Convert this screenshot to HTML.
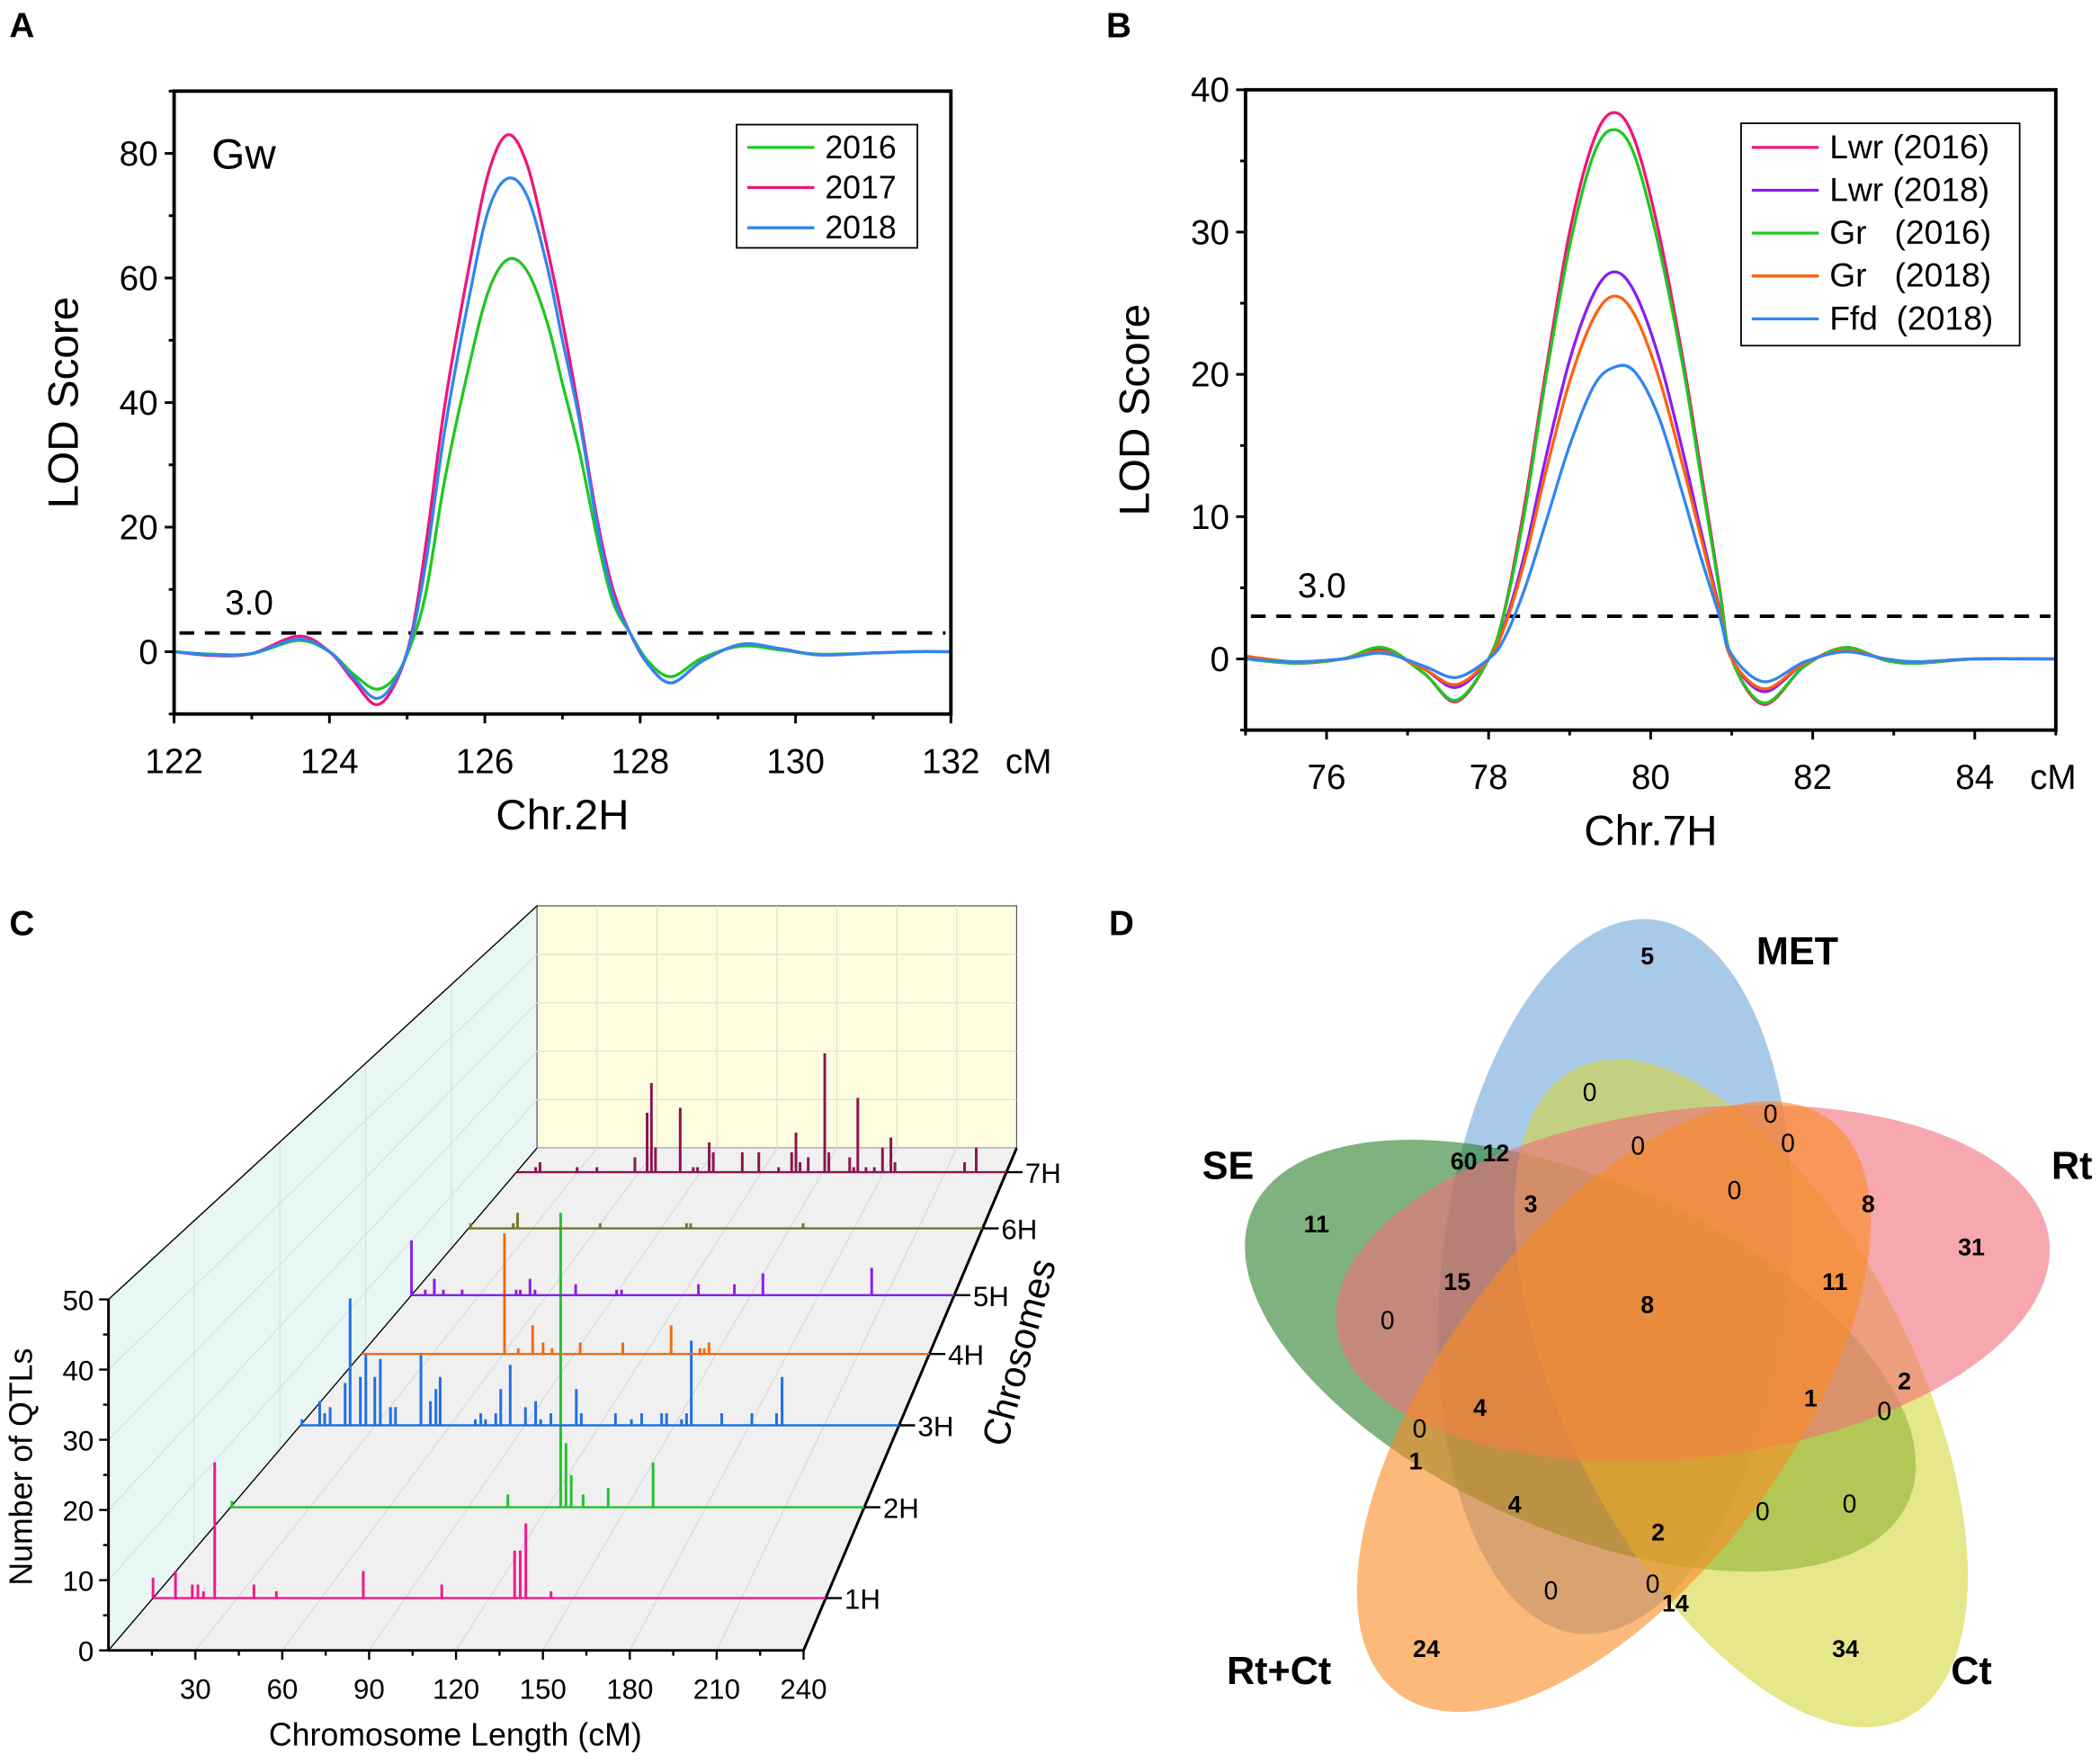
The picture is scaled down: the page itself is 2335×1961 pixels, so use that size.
<!DOCTYPE html>
<html><head><meta charset="utf-8"><style>
html,body{margin:0;padding:0;background:#fff;}
svg{display:block;font-family:"Liberation Sans",Arial,sans-serif;}
</style></head><body>
<svg id="fig" width="2335" height="1961" viewBox="0 0 1568 1316.8" xmlns="http://www.w3.org/2000/svg">
<g id="pA"></g>
<g id="pB"></g>
<g id="pC"></g>
<g id="pD"></g>
</svg>
<script>
// ---------- Panel A data ----------
const aX = [122,122.5,123,123.6,124,124.3,124.6,124.85,125.06,125.25,125.49,125.8,126.05,126.3,126.55,126.8,127.0,127.22,127.45,127.65,127.87,128.1,128.4,128.8,129.3,129.8,130.3,131,131.5,132];
const a2017 = [0,-0.6,-0.3,2.5,0,-4.5,-8.5,-5,3,18,40,62,77,83,78,65,53,38,21,10,3,-2,-5,-1.5,1.2,0.5,-0.5,-0.2,0,0];
const a2018 = [0,-0.5,-0.3,2.0,0,-4,-7.5,-4.5,2.5,15,36,57,71,76,73,62,50,37,20,9,3,-2,-5,-1.5,1.2,0.5,-0.5,-0.2,0,0];
const a2016 = [0,-0.4,-0.3,1.8,0,-3.5,-6,-4,1.5,10,28,46,58,63,61,53,43,32,18,8,3,-1.5,-4,-1,0.9,0.3,-0.4,-0.2,0,0];
const aYTicks = [0,20,40,60,80];
const aXTicks = [122,124,126,128,130,132];
// ---------- Panel B data ----------
const bX = [75,75.6,76.2,76.7,77.2,77.6,78.0,78.2,78.45,78.7,79.0,79.3,79.55,79.8,80.1,80.4,80.6,80.85,81.0,81.4,81.9,82.4,82.9,83.3,84,85];
const bLwr2016 = [0.2,-0.3,0,0.7,-1,-3,0,3.5,11,20,30,36.5,38.4,36.5,30,21,14,5,0,-3.2,-0.5,0.8,-0.1,-0.3,0,0];
const bLwr2018 = [0.1,-0.2,0,0.5,-0.7,-2,0,2.5,7.5,14,21,25.7,27.2,25.8,21.2,14.5,9.5,3.5,0,-2.3,-0.3,0.6,0,-0.2,0,0];
const bGr2016 = [0,-0.3,0,0.8,-1,-2.9,0,3.4,10.5,19.5,29,35.5,37.2,35.4,29,20.5,13.5,4.8,0,-3.1,-0.5,0.8,-0.1,-0.3,0,0];
const bGr2018 = [0.2,-0.2,0,0.5,-0.7,-1.8,0,2.3,7,13,19.5,24,25.5,24.2,19.8,13.5,9,3.3,0,-2.1,-0.3,0.6,0,-0.2,0,0];
const bFfd2018 = [0,-0.2,0,0.4,-0.5,-1.3,0,1.5,5,9.5,15,19.2,20.5,20.2,17,11.5,7.5,3,0.3,-1.6,-0.2,0.5,0,-0.2,0,0];
const bYTicks = [0,10,20,30,40];
const bXTicks = [76,78,80,82,84];
// ---------- Panel C data ----------
const cChroms = ["1H","2H","3H","4H","5H","6H","7H"];
const c1Hpos = [0,8,14,16,18,22,36,44,75,103,129,131,133,142];
const c1Hn   = [3,4,2,2,1,20,2,1,4,2,7,7,11,1];
const c2Hpos = [0.5,105,125,127,129,133.5,143,160];
const c2Hn   = [1,2,46,10,5,2,3,7];
const c3Hpos = [0.6,7.7,9.7,11.9,17.9,19.9,24,26.2,29.8,32,36.1,38.1,48.3,52.1,54.3,56,70.1,72.3,74.2,78.3,80.3,84.1,90.2,94.3,96.3,100.4,110.6,112.6,126.3,132.7,136.8,144.8,146.8,152.8,154.8,156.7,168.9,181,190.9,193.1];
const c3Hn   = [1,4,2,3,7,21,8,12,8,11,3,3,12,4,6,8,1,2,1,2,6,10,3,4,1,2,6,2,2,1,2,2,2,1,2,14,2,2,2,8];
const c4Hpos = [60.5,66.3,72.4,76.8,80.6,92.5,110.5,130.9,143.1,144.9,146.9];
const c4Hn   = [21,1,5,2,1,2,2,5,1,1,2];
const c5Hpos = [0,6.1,10.1,14.1,22.4,46.3,48.1,52.4,54.6,72.6,90.7,92.9,126.9,142.8,155.4,203.5];
const c5Hn   = [10,1,3,1,1,1,1,3,1,2,1,1,2,2,4,5];
const c6Hpos = [1,20.9,22.9,61.5,101.8,103.7,156.2];
const c6Hn   = [1,1,3,1,1,1,1];
const c7Hpos = [9.4,11.5,29.7,39.4,58,64,66.1,68.1,80.2,86.6,88.7,94.4,96.4,110.6,118.7,128.4,134.8,136.9,138.9,142.9,151,153,163.2,165.2,167.2,171.2,175.3,179.3,183.4,185.4,219.5,225.2];
const c7Hn   = [1,2,1,1,3,12,18,5,13,1,1,6,4,4,4,1,4,8,2,3,24,4,3,1,15,1,1,5,7,2,2,5];
const cXTicks = [30,60,90,120,150,180,210,240];
const cYTicks = [0,10,20,30,40,50];
// ---------- Panel D data ----------
const dSets = ["MET","Rt","Ct","Rt+Ct","SE"];
const dCounts = ["5","0","0","0","0","12","60","11","3","0","8","31","15","11","0","8","2","1","0","4","0","1","4","0","0","2","0","0","14","24","34"];

const NS="http://www.w3.org/2000/svg";
function mk(parent,tag,attrs,name,text){
  const e=document.createElementNS(NS,tag);
  for(const k in attrs) e.setAttribute(k,attrs[k]);
  
  
  if(text!==undefined) e.textContent=text;
  parent.appendChild(e); return e;
}
function smooth(pts){
  let d="M"+pts[0][0].toFixed(2)+","+pts[0][1].toFixed(2);
  for(let i=0;i<pts.length-1;i++){
    const p0=pts[Math.max(0,i-1)],p1=pts[i],p2=pts[i+1],p3=pts[Math.min(pts.length-1,i+2)];
    const c1=[p1[0]+(p2[0]-p0[0])/6,p1[1]+(p2[1]-p0[1])/6];
    const c2=[p2[0]-(p3[0]-p1[0])/6,p2[1]-(p3[1]-p1[1])/6];
    d+="C"+c1[0].toFixed(2)+","+c1[1].toFixed(2)+" "+c2[0].toFixed(2)+","+c2[1].toFixed(2)+" "+p2[0].toFixed(2)+","+p2[1].toFixed(2);
  }
  return d;
}
function lodPanel(g,cfg){
  const X=v=>cfg.x0+(v-cfg.xmin)/(cfg.xmax-cfg.xmin)*(cfg.x1-cfg.x0);
  const Y=v=>cfg.y1-(v-cfg.ymin)/(cfg.ymax-cfg.ymin)*(cfg.y1-cfg.y0);
  mk(g,'text',{x:cfg.lx,y:cfg.ly,'font-size':26,'font-weight':'bold'},'panel-label',cfg.label);
  for(let v=cfg.ymin;v<=cfg.ymax;v+=cfg.yminor){
    const major=cfg.yticks.includes(v);
    mk(g,'line',{x1:cfg.x0,x2:cfg.x0-(major?7:4),y1:Y(v),y2:Y(v),stroke:'#000','stroke-width':2},'y-tick');
  }
  cfg.yticks.forEach(v=>mk(g,'text',{x:cfg.x0-12,y:Y(v)+9,'font-size':26,'text-anchor':'end'},'y-tick-label',String(v)));
  for(let v=cfg.xmin;v<=cfg.xmax+1e-9;v+=cfg.xminor){
    const major=cfg.xticks.some(t=>Math.abs(t-v)<1e-6);
    mk(g,'line',{x1:X(v),x2:X(v),y1:cfg.y1,y2:cfg.y1+(major?7:4),stroke:'#000','stroke-width':2},'x-tick');
  }
  cfg.xticks.forEach(v=>mk(g,'text',{x:X(v),y:cfg.y1+44,'font-size':26,'text-anchor':'middle'},'x-tick-label',String(v)));
  mk(g,'text',{x:cfg.cmx,y:cfg.y1+44,'font-size':26,'text-anchor':'middle'},'x-unit-label','cM');
  mk(g,'text',{x:(cfg.x0+cfg.x1)/2,y:cfg.y1+86,'font-size':32,'text-anchor':'middle'},'x-axis-title',cfg.xtitle);
  mk(g,'text',{x:cfg.ytx,y:(cfg.y0+cfg.y1)/2,'font-size':32,'text-anchor':'middle',transform:`rotate(-90 ${cfg.ytx} ${(cfg.y0+cfg.y1)/2})`},'y-axis-title','LOD Score');
  mk(g,'line',{x1:cfg.x0+4,x2:cfg.x1-4,y1:Y(3),y2:Y(3),stroke:'#000','stroke-width':2.6,'stroke-dasharray':'11,8'},'threshold-line');
  mk(g,'text',{x:cfg.thx,y:Y(3)-14,'font-size':26,'text-anchor':'middle'},'threshold-label','3.0');
  cfg.series.forEach(s=>{
    const pts=cfg.xs.map((x,i)=>[X(x),Y(s.v[i])]);
    mk(g,'path',{d:smooth(pts),fill:'none',stroke:s.c,'stroke-width':2.2},s.name);
  });
  mk(g,'rect',{x:cfg.x0,y:cfg.y0,width:cfg.x1-cfg.x0,height:cfg.y1-cfg.y0,fill:'none',stroke:'#000','stroke-width':2.6},'plot-frame');
  const L=cfg.leg;
  mk(g,'rect',{x:L.x,y:L.y,width:L.w,height:L.h,fill:'#fff',stroke:'#000','stroke-width':1.2},'legend-box');
  cfg.series.forEach((s,i)=>{
    const yy=L.y+L.first+i*L.step;
    mk(g,'line',{x1:L.x+8,x2:L.x+58,y1:yy,y2:yy,stroke:s.c,'stroke-width':2.2},'legend-swatch');
    mk(g,'text',{x:L.x+66,y:yy+8,'font-size':L.fs,style:'white-space:pre'},'legend-entry',s.label);
  });
}
lodPanel(document.getElementById('pA'),{label:'A',lx:7,ly:28,x0:130,x1:710,y0:68,y1:533,xmin:122,xmax:132,ymin:-10,ymax:90,
  yminor:10,xminor:1,yticks:aYTicks,xticks:aXTicks,cmx:768,xtitle:'Chr.2H',ytx:58,thx:186,xs:aX,
  series:[{name:'line-2016',label:'2016',c:'#1ec81e',v:a2016},{name:'line-2017',label:'2017',c:'#f0157a',v:a2017},{name:'line-2018',label:'2018',c:'#2f86f0',v:a2018}],
  leg:{x:550,y:93,w:135,h:92,first:17,step:30,fs:24}});
mk(document.getElementById('pA'),'text',{x:158,y:126,'font-size':32},'trait-label','Gw');
lodPanel(document.getElementById('pB'),{label:'B',lx:826,ly:28,x0:930,x1:1535,y0:67,y1:545,xmin:75,xmax:85,ymin:-5,ymax:40,
  yminor:5,xminor:1,yticks:bYTicks,xticks:bXTicks,cmx:1533,xtitle:'Chr.7H',ytx:858,thx:987,xs:bX,
  series:[{name:'line-lwr-2016',label:'Lwr (2016)',c:'#f0157a',v:bLwr2016},{name:'line-lwr-2018',label:'Lwr (2018)',c:'#8a1ef0',v:bLwr2018},
    {name:'line-gr-2016',label:'Gr   (2016)',c:'#1ec81e',v:bGr2016},{name:'line-gr-2018',label:'Gr   (2018)',c:'#ff6010',v:bGr2018},{name:'line-ffd-2018',label:'Ffd  (2018)',c:'#2f86f0',v:bFfd2018}],
  leg:{x:1300,y:92,w:208,h:166,first:18,step:32,fs:25}});

// ---------- Panel C ----------
(function(){
  const g=document.getElementById('pC');
  const rowDepth=[0.104,0.285,0.448,0.59,0.707,0.84,0.952];
  const colors=['#f0198a','#22c22a','#1f6fe5','#f26a0f','#8b1ee6','#76762a','#8b1450'];
  const P=(cm,q,t)=>{const s=1-0.31*t;return [81+320*t+cm/240*519*s,1232-375*t-q*5.24*s];};
  const pt=p=>p[0].toFixed(1)+','+p[1].toFixed(1);
  mk(g,'text',{x:7,y:698,'font-size':26,'font-weight':'bold'},'panel-label','C');
  mk(g,'polygon',{points:[P(0,0,0),P(0,50,0),P(0,50,1),P(0,0,1)].map(pt).join(' '),fill:'#e8f7f4',stroke:'#555','stroke-width':0.8},'left-wall');
  mk(g,'polygon',{points:[P(0,0,1),P(240,0,1),P(240,50,1),P(0,50,1)].map(pt).join(' '),fill:'#fffde0',stroke:'#555','stroke-width':0.8},'back-wall');
  mk(g,'polygon',{points:[P(0,0,0),P(240,0,0),P(240,0,1),P(0,0,1)].map(pt).join(' '),fill:'#f0f0f0'},'floor');
  for(let cm=30;cm<240;cm+=30){
    let a=P(cm,0,0),b=P(cm,0,1),c=P(cm,50,1);
    mk(g,'line',{x1:a[0],y1:a[1],x2:b[0],y2:b[1],stroke:'#d8d8d8','stroke-width':0.8},'floor-grid');
    mk(g,'line',{x1:b[0],y1:b[1],x2:c[0],y2:c[1],stroke:'#e2e2cc','stroke-width':0.8},'back-grid');
  }
  for(let q=10;q<50;q+=10){
    let a=P(0,q,0),b=P(0,q,1),c=P(240,q,1);
    mk(g,'line',{x1:a[0],y1:a[1],x2:b[0],y2:b[1],stroke:'#cfe3e0','stroke-width':0.8},'wall-grid');
    mk(g,'line',{x1:b[0],y1:b[1],x2:c[0],y2:c[1],stroke:'#e2e2cc','stroke-width':0.8},'back-grid');
  }
  for(let t=0.2;t<1;t+=0.2){
    let a=P(0,0,t),b=P(0,50,t);
    mk(g,'line',{x1:a[0],y1:a[1],x2:b[0],y2:b[1],stroke:'#cfe3e0','stroke-width':0.8},'wall-grid');
  }
  const edge=(a,b,w,n)=>mk(g,'line',{x1:a[0],y1:a[1],x2:b[0],y2:b[1],stroke:'#000','stroke-width':w},n);
  edge(P(0,0,0),P(240,0,0),2,'x-axis');
  edge(P(240,0,0),P(240,0,1),2,'depth-axis');
  edge(P(0,0,0),P(0,50,0),2,'y-axis');
  edge(P(0,50,0),P(0,50,1),0.9,'wall-edge');
  edge(P(0,0,0),P(0,0,1),0.9,'wall-edge');
  for(let cm=15;cm<=240;cm+=15){
    const a=P(cm,0,0);
    mk(g,'line',{x1:a[0],y1:a[1],x2:a[0],y2:a[1]+(cm%30===0?7:4),stroke:'#000','stroke-width':1.6},'x-tick');
  }
  cXTicks.forEach(v=>{const a=P(v,0,0);mk(g,'text',{x:a[0],y:a[1]+36,'font-size':21,'text-anchor':'middle'},'x-tick-label',String(v));});
  for(let q=0;q<=50;q+=5){
    const a=P(0,q,0);
    mk(g,'line',{x1:a[0],y1:a[1],x2:a[0]-(q%10===0?7:4),y2:a[1],stroke:'#000','stroke-width':1.6},'y-tick');
  }
  cYTicks.forEach(v=>{const a=P(0,v,0);mk(g,'text',{x:a[0]-11,y:a[1]+8,'font-size':21,'text-anchor':'end'},'y-tick-label',String(v));});
  mk(g,'text',{x:340,y:1303,'font-size':24,'text-anchor':'middle'},'x-axis-title','Chromosome Length (cM)');
  mk(g,'text',{x:24,y:1095,'font-size':24,'text-anchor':'middle',transform:'rotate(-90 24 1095)'},'y-axis-title','Number of QTLs');
  mk(g,'text',{x:770,y:1012,'font-size':28,'text-anchor':'middle',transform:'rotate(-75 770 1012)'},'depth-axis-title','Chrosomes');
  const pos=[c1Hpos,c2Hpos,c3Hpos,c4Hpos,c5Hpos,c6Hpos,c7Hpos];
  const ns=[c1Hn,c2Hn,c3Hn,c4Hn,c5Hn,c6Hn,c7Hn];
  cChroms.forEach((name,k)=>{
    const t=rowDepth[k];
    const a=P(0,0,t),b=P(240,0,t);
    mk(g,'line',{x1:a[0],y1:a[1],x2:b[0],y2:b[1],stroke:colors[k],'stroke-width':1.6},'baseline-'+name);
    mk(g,'line',{x1:b[0],y1:b[1],x2:b[0]+12,y2:b[1],stroke:'#000','stroke-width':1.6},'depth-tick');
    mk(g,'text',{x:b[0]+14,y:b[1]+8,'font-size':21},'chrom-label',name);
    pos[k].forEach((cm,i)=>{
      const p0=P(cm,0,t),p1=P(cm,ns[k][i],t);
      mk(g,'line',{x1:p0[0],y1:p0[1],x2:p1[0],y2:p1[1],stroke:colors[k],'stroke-width':2},'bar-'+name);
    });
  });
})();

// ---------- Panel D ----------
(function(){
  const g=document.getElementById('pD');
  mk(g,'text',{x:828,y:698,'font-size':26,'font-weight':'bold'},'panel-label','D');
  const ells=[
    {n:'ellipse-met',cx:1206,cy:953,rx:268,ry:130,a:96,c:'#70a5d9'},
    {n:'ellipse-se',cx:1180,cy:1012,rx:268,ry:130,a:24,c:'#2a7f2a'},
    {n:'ellipse-ct',cx:1300,cy:1040,rx:272,ry:130,a:63,c:'#d5d53c'},
    {n:'ellipse-rt',cx:1264,cy:958,rx:268,ry:130,a:-7,c:'#f26e78'},
    {n:'ellipse-rtct',cx:1205,cy:1050,rx:268,ry:130,a:-53,c:'#fa8a21'}
  ];
  ells.forEach(e=>mk(g,'ellipse',{cx:e.cx,cy:e.cy,rx:e.rx,ry:e.ry,fill:e.c,'fill-opacity':0.6,transform:`rotate(${e.a} ${e.cx} ${e.cy})`},e.n));
  const setPos=[[1342,720],[1547,880],[1472,1257],[955,1257],[917,880]];
  dSets.forEach((s,i)=>mk(g,'text',{x:setPos[i][0],y:setPos[i][1],'font-size':29,'font-weight':'bold','text-anchor':'middle'},'set-label',s));
  const cPos=[[1230,713],[1187,815],[1322,831],[1335,853],[1223,855],[1117,860],[1093,866],[983,913],[1143,898],[1295,888],[1395,898],[1472,930],[1088,956],[1370,956],[1036,985],[1230,973],[1422,1030],[1352,1043],[1407,1053],[1105,1050],[1060,1066],[1057,1090],[1131,1122],[1316,1128],[1381,1122],[1238,1143],[1158,1187],[1234,1182],[1251,1196],[1065,1230],[1378,1230]];
  dCounts.forEach((v,i)=>mk(g,'text',{x:cPos[i][0],y:cPos[i][1]+7,'font-size':v==='0'?19:18,'font-weight':v==='0'?'normal':'bold','text-anchor':'middle'},'region-count',v));
})();
</script>
</body></html>
